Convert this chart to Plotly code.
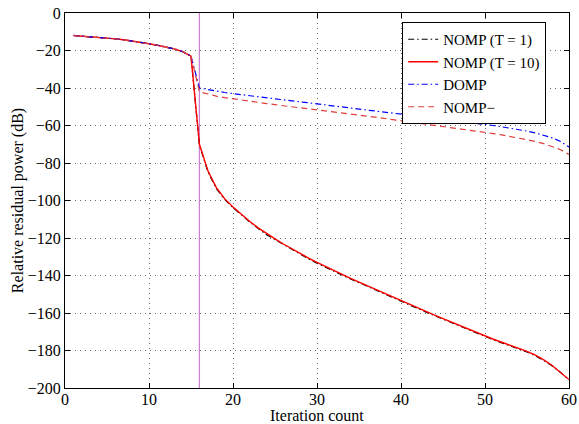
import plotly.graph_objects as go

# ---------------- data ----------------
iters = list(range(1, 61))

common_head = [-12.0, -12.3, -12.6, -13.0, -13.4, -13.8, -14.3, -14.9, -15.6, -16.4,
               -17.2, -18.1, -19.1, -20.6, -23.0]

nomp_t10_tail = [-70.0, -84.0, -93.0, -99.0, -103.5, -107.5, -111.2, -114.6, -117.7, -120.5,
                 -123.2, -125.8, -128.3, -130.7, -133.0, -135.2, -137.3, -139.4, -141.5, -143.5,
                 -145.5, -147.5, -149.5, -151.5, -153.5, -155.4, -157.3, -159.2, -161.1, -163.0,
                 -164.9, -166.8, -168.7, -170.5, -172.3, -174.0, -175.6, -177.2, -178.8, -180.5,
                 -182.5, -185.0, -188.0, -191.5, -195.5]

nomp_t1_tail = [-70.3, -84.5, -93.6, -99.4, -103.8, -107.9, -111.5, -115.0, -118.2, -120.8,
                -123.5, -126.0, -128.7, -131.2, -133.4, -135.6, -137.6, -139.8, -141.9, -143.8,
                -145.8, -147.9, -149.8, -151.8, -153.8, -155.7, -157.6, -159.6, -161.4, -163.3,
                -165.2, -167.1, -169.0, -170.8, -172.6, -174.3, -175.9, -177.5, -179.1, -180.8,
                -182.8, -185.3, -188.3, -191.7, -195.7]

domp_tail = [-40.0, -40.9, -41.7, -42.4, -43.0, -43.6, -44.1, -44.7, -45.2, -45.8,
             -46.3, -46.8, -47.4, -47.9, -48.5, -49.0, -49.6, -50.1, -50.7, -51.2,
             -51.8, -52.3, -52.9, -53.4, -54.0, -54.5, -55.0, -55.6, -56.1, -56.6,
             -57.2, -57.7, -58.3, -58.8, -59.4, -60.0, -60.7, -61.4, -62.2, -63.0,
             -64.0, -65.2, -66.6, -68.5, -71.5]

nomp_minus_tail = [-42.0, -43.3, -44.3, -45.1, -45.8, -46.5, -47.1, -47.7, -48.3, -48.9,
                   -49.5, -50.1, -50.6, -51.2, -51.7, -52.3, -52.8, -53.4, -53.9, -54.5,
                   -55.0, -55.6, -56.2, -56.8, -57.4, -58.0, -58.6, -59.2, -59.8, -60.4,
                   -61.0, -61.6, -62.3, -62.9, -63.6, -64.3, -65.0, -65.8, -66.6, -67.5,
                   -68.5, -69.7, -71.1, -72.9, -75.5]

nomp_t1 = common_head + nomp_t1_tail
nomp_t10 = common_head + nomp_t10_tail
domp = common_head + domp_tail
nomp_minus = common_head + nomp_minus_tail

switch_iter = [16, 16]
switch_range = [0, -200]

x_ticks = [0, 10, 20, 30, 40, 50, 60]
y_ticks = [0, -20, -40, -60, -80, -100, -120, -140, -160, -180, -200]

# ---------------- figure ----------------
FONT = "Liberation Serif, Times New Roman, DejaVu Serif, serif"
fig = go.Figure()

fig.add_trace(go.Scatter(x=switch_iter, y=switch_range, mode="lines",
                         line=dict(color="rgb(205,130,210)", width=1.3),
                         showlegend=False, hoverinfo="skip"))
fig.add_trace(go.Scatter(x=iters, y=nomp_t1, mode="lines", name="NOMP (T = 1)",
                         line=dict(color="black", width=1.2, dash="6px,3px,1.5px,3px")))
fig.add_trace(go.Scatter(x=iters, y=nomp_t10, mode="lines", name="NOMP (T = 10)",
                         line=dict(color="#ff0000", width=1.4)))
fig.add_trace(go.Scatter(x=iters, y=domp, mode="lines", name="DOMP",
                         line=dict(color="#0000ff", width=1.2, dash="6px,3px,1.5px,3px")))
fig.add_trace(go.Scatter(x=iters, y=nomp_minus, mode="lines", name="NOMP\u2212",
                         line=dict(color="#e03c3c", width=1.2, dash="6px,4px")))

axis_common = dict(
    showline=True, linecolor="black", linewidth=1.2, mirror="ticks",
    ticks="inside", ticklen=5, tickcolor="black", tickwidth=1,
    showgrid=True, gridcolor="rgba(0,0,0,0.6)", griddash="1px,4px", gridwidth=1,
    zeroline=False, automargin=False,
    tickfont=dict(family=FONT, size=16, color="black"),
)

fig.update_xaxes(range=[0, 60], tickvals=x_ticks, ticktext=[str(v) for v in x_ticks],
                 ticklabelstandoff=-3, **axis_common)
fig.update_yaxes(range=[-200, 0], tickvals=y_ticks,
                 ticktext=[("\u2212" + str(-v)) if v < 0 else str(v) for v in y_ticks],
                 title=dict(text="Relative residual power (dB)",
                            font=dict(family=FONT, size=16, color="black"), standoff=0),
                 **axis_common)

fig.add_annotation(text="Iteration count", xref="paper", yref="paper",
                   x=0.5, y=-0.074, xanchor="center", yanchor="middle",
                   showarrow=False, font=dict(family=FONT, size=16, color="black"))

fig.update_layout(
    width=579, height=424,
    margin=dict(l=65, r=10, t=13, b=36),
    paper_bgcolor="white", plot_bgcolor="white",
    font=dict(family=FONT, size=16, color="black"),
    legend=dict(x=0.669, y=0.976, xanchor="left", yanchor="top",
                bgcolor="white", bordercolor="black", borderwidth=1,
                font=dict(family=FONT, size=15, color="black"),
                tracegroupgap=0, itemwidth=30),
)

fig.write_html("out.html", config={"displayModeBar": False},
               post_script="document.body.style.margin='0px';document.body.style.overflow='hidden';")
